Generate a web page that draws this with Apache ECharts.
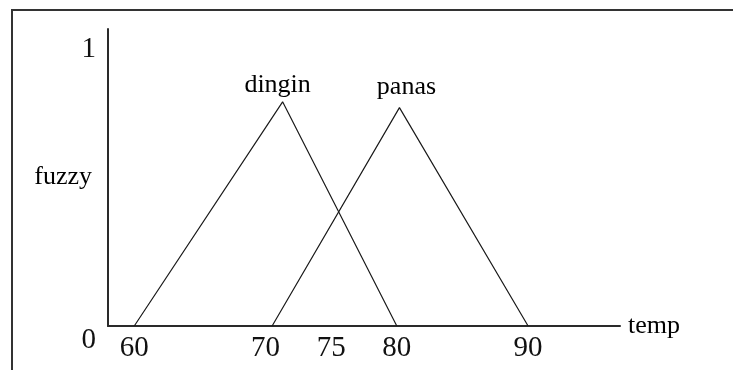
<!DOCTYPE html>
<html>
<head>
<meta charset="utf-8">
<script src="https://cdn.jsdelivr.net/npm/echarts@6/dist/echarts.min.js"></script>
<style>
  html, body { margin: 0; padding: 0; background: #fff; }
  #chart { width: 733px; height: 370px; }
</style>
</head>
<body>
<div id="chart"></div>
<script>
// 隶属函数数据 (temp, fuzzy)
const seriesNames = ['dingin', 'panas']
const dinginX = [60, 71.3, 80]
const dinginY = [0, 0.77, 0]
const panasX = [70.5, 80.2, 90]
const panasY = [0, 0.75, 0]
const xTickLabels = [60, 70, 75, 80, 90]
const yTickLabels = [0, 1]

const serif = '"Liberation Serif", "DejaVu Serif", serif'

// 把 x/y 数组拼成点，峰值点上显示名称
function buildData(xs, ys, labelOffset, labelDist) {
  const peak = ys.indexOf(Math.max(...ys))
  return xs.map((x, i) => {
    if (i !== peak) return [x, ys[i]]
    return {
      value: [x, ys[i]],
      label: {
        show: true,
        position: 'top',
        distance: labelDist,
        offset: labelOffset
      }
    }
  })
}

const chart = echarts.init(document.getElementById('chart'))

const lineSeries = (name, data) => ({
  name: name,
  type: 'line',
  data: data,
  showSymbol: true,
  symbol: 'circle',
  symbolSize: 0,
  lineStyle: { color: '#1a1a1a', width: 1.2 },
  itemStyle: { color: '#1a1a1a' },
  label: {
    show: false,
    formatter: name,
    color: '#000',
    fontFamily: serif,
    fontSize: 26
  },
  silent: true,
  animation: false
})

chart.setOption({
  animation: false,
  graphic: [
    {
      type: 'polyline',
      shape: { points: [[12, 370], [12, 10], [733, 10]] },
      style: { stroke: '#333', lineWidth: 2, fill: null },
      silent: true
    }
  ],
  grid: { left: 108, top: 29, right: 113, bottom: 44 },
  xAxis: {
    type: 'value',
    min: 58,
    max: 97,
    name: 'temp',
    nameLocation: 'end',
    nameGap: 8,
    nameTextStyle: {
      fontFamily: serif,
      fontSize: 26,
      color: '#000',
      verticalAlign: 'middle',
      padding: [0, 0, 8, 0]
    },
    axisLine: { lineStyle: { color: '#2a2a2a', width: 2 } },
    axisTick: { show: false },
    splitLine: { show: false },
    axisLabel: {
      customValues: xTickLabels,
      fontFamily: serif,
      fontSize: 29,
      color: '#111',
      margin: 8
    }
  },
  yAxis: {
    type: 'value',
    min: 0,
    max: 1.02,
    name: 'fuzzy',
    nameLocation: 'middle',
    nameRotate: 0,
    nameGap: 16,
    nameMoveOverlap: false,
    nameTextStyle: {
      fontFamily: serif,
      fontSize: 26,
      color: '#000',
      align: 'right'
    },
    axisLine: { show: true, lineStyle: { color: '#2a2a2a', width: 2 } },
    axisTick: { show: false },
    splitLine: { show: false },
    axisLabel: {
      customValues: yTickLabels,
      fontFamily: serif,
      fontSize: 29,
      color: '#111',
      margin: 12,
      verticalAlign: 'top'
    }
  },
  series: [
    lineSeries(seriesNames[0], buildData(dinginX, dinginY, [-5, 0], 4)),
    lineSeries(seriesNames[1], buildData(panasX, panasY, [7, 0], 7))
  ]
})
</script>
</body>
</html>
